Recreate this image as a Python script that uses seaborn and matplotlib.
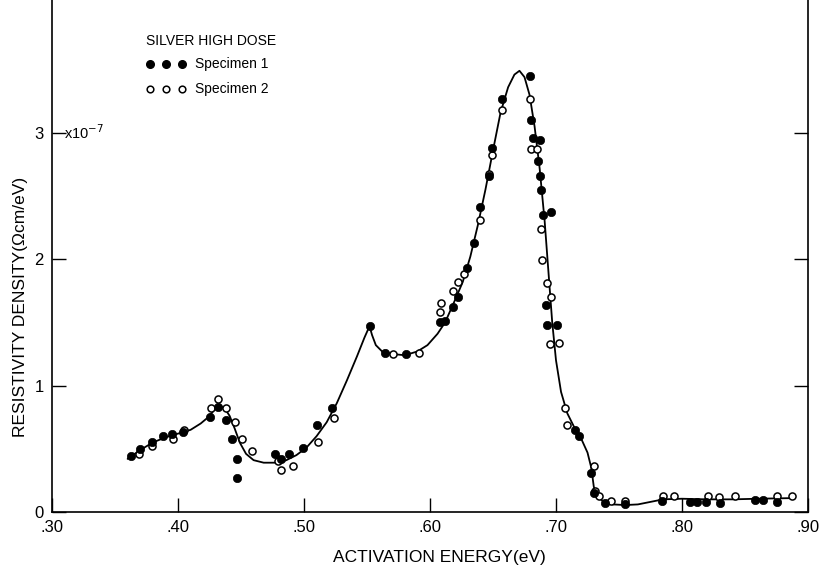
import matplotlib
matplotlib.use("Agg")
import matplotlib.pyplot as plt
import seaborn as sns
import pandas as pd

# ---- data ----
curve_x = [0.360, 0.370, 0.380, 0.390, 0.400, 0.410, 0.418, 0.424, 0.429, 0.433,
           0.437, 0.441, 0.445, 0.449, 0.454, 0.460, 0.468, 0.478, 0.486, 0.494,
           0.502, 0.510, 0.518, 0.526, 0.534, 0.542, 0.548, 0.552, 0.554, 0.557,
           0.562, 0.570, 0.580, 0.590, 0.598, 0.606, 0.612, 0.620, 0.626, 0.632,
           0.638, 0.644, 0.650, 0.656, 0.662, 0.667, 0.671, 0.675, 0.679, 0.683,
           0.687, 0.691, 0.694, 0.697, 0.700, 0.704, 0.709, 0.715, 0.720, 0.725,
           0.728, 0.730, 0.733, 0.738, 0.745, 0.755, 0.765, 0.775, 0.785, 0.800,
           0.820, 0.840, 0.860, 0.888]
curve_y = [0.42, 0.49, 0.55, 0.59, 0.62, 0.65, 0.70, 0.75, 0.81, 0.84,
           0.82, 0.76, 0.66, 0.55, 0.46, 0.41, 0.39, 0.39, 0.41, 0.45,
           0.51, 0.60, 0.71, 0.86, 1.04, 1.23, 1.38, 1.47, 1.40, 1.32,
           1.27, 1.25, 1.24, 1.27, 1.32, 1.41, 1.50, 1.68, 1.82, 2.02,
           2.27, 2.55, 2.86, 3.16, 3.36, 3.46, 3.49, 3.44, 3.30, 3.05,
           2.72, 2.30, 1.90, 1.50, 1.20, 0.95, 0.78, 0.66, 0.58, 0.47,
           0.35, 0.20, 0.12, 0.08, 0.06, 0.055, 0.06, 0.08, 0.10, 0.105,
           0.10, 0.10, 0.105, 0.11]

spec1_x = [0.363, 0.370, 0.379, 0.388, 0.395, 0.404, 0.425, 0.432, 0.438, 0.443,
           0.447, 0.447, 0.477, 0.482, 0.488, 0.499, 0.510, 0.522, 0.552, 0.564,
           0.581, 0.608, 0.612, 0.618, 0.622, 0.629, 0.635, 0.640, 0.647, 0.649,
           0.657, 0.679, 0.680, 0.682, 0.686, 0.687, 0.687, 0.688, 0.690, 0.696,
           0.692, 0.693, 0.701, 0.715, 0.718, 0.728, 0.730, 0.739, 0.755, 0.784,
           0.806, 0.812, 0.819, 0.830, 0.858, 0.864, 0.875]
spec1_y = [0.44, 0.50, 0.55, 0.60, 0.62, 0.635, 0.75, 0.83, 0.73, 0.575,
           0.42, 0.27, 0.46, 0.42, 0.46, 0.51, 0.69, 0.82, 1.47, 1.26,
           1.25, 1.50, 1.51, 1.62, 1.70, 1.93, 2.13, 2.41, 2.66, 2.88,
           3.27, 3.45, 3.10, 2.96, 2.78, 2.94, 2.66, 2.55, 2.35, 2.37,
           1.64, 1.48, 1.48, 0.65, 0.60, 0.31, 0.15, 0.07, 0.06, 0.085,
           0.08, 0.08, 0.08, 0.075, 0.095, 0.095, 0.08]

spec2_x = [0.369, 0.379, 0.396, 0.405, 0.426, 0.432, 0.438, 0.445, 0.451, 0.459,
           0.479, 0.482, 0.491, 0.511, 0.524, 0.571, 0.591, 0.608, 0.609, 0.618,
           0.622, 0.627, 0.640, 0.647, 0.649, 0.657, 0.679, 0.680, 0.685, 0.688,
           0.689, 0.693, 0.696, 0.695, 0.702, 0.707, 0.709, 0.730, 0.731, 0.734,
           0.744, 0.755, 0.785, 0.794, 0.821, 0.829, 0.842, 0.875, 0.887]
spec2_y = [0.46, 0.52, 0.58, 0.65, 0.82, 0.89, 0.82, 0.71, 0.58, 0.485,
           0.405, 0.33, 0.36, 0.55, 0.745, 1.25, 1.26, 1.58, 1.65, 1.75,
           1.82, 1.88, 2.31, 2.67, 2.82, 3.18, 3.27, 2.87, 2.87, 2.24,
           1.99, 1.81, 1.70, 1.33, 1.34, 0.82, 0.69, 0.36, 0.17, 0.13,
           0.09, 0.09, 0.125, 0.125, 0.13, 0.12, 0.125, 0.13, 0.125]

x_ticks = [0.30, 0.40, 0.50, 0.60, 0.70, 0.80, 0.90]
x_tick_labels = [".30", ".40", ".50", ".60", ".70", ".80", ".90"]
y_ticks = [0, 1, 2, 3]
y_tick_labels = ["0", "1", "2", "3"]

# ---- plotting ----
sns.set_theme(style="ticks")
plt.rcParams["font.family"] = ["Liberation Sans", "DejaVu Sans"]
plt.rcParams["text.color"] = "black"
plt.rcParams["axes.labelcolor"] = "black"

fig = plt.figure(figsize=(8.19, 5.69), dpi=100)
ax = fig.add_axes([52 / 819, 57 / 569, 756 / 819, 512 / 569])

curve = pd.DataFrame({"x": curve_x, "y": curve_y})
s1 = pd.DataFrame({"x": spec1_x, "y": spec1_y})
s2 = pd.DataFrame({"x": spec2_x, "y": spec2_y})

sns.lineplot(data=curve, x="x", y="y", sort=False, estimator=None,
             color="black", linewidth=1.3, ax=ax)
sns.scatterplot(data=s2, x="x", y="y", marker="o", s=26, facecolor="white",
                edgecolor="black", linewidth=1.1, ax=ax, zorder=3)
sns.scatterplot(data=s1, x="x", y="y", marker="o", s=36, color="black",
                edgecolor="black", linewidth=0.5, ax=ax, zorder=4)

ax.set_xlim(0.30, 0.90)
ax.set_ylim(0, 4.05)
ax.set_xticks(x_ticks)
ax.set_xticklabels(x_tick_labels)
ax.set_yticks(y_ticks)
ax.set_yticklabels(y_tick_labels)
ax.tick_params(axis="both", direction="in", length=10, width=1.0,
               labelsize=12, colors="black", pad=6)
ax.tick_params(axis="y", right=True, left=True)
ax.tick_params(axis="x", top=False)

for side in ["left", "bottom", "right"]:
    ax.spines[side].set_linewidth(1.2)
    ax.spines[side].set_color("black")
ax.spines["top"].set_visible(False)

ax.set_xlabel("ACTIVATION ENERGY(eV)", fontsize=12.5)
ax.set_ylabel("RESISTIVITY DENSITY(\u03a9cm/eV)", fontsize=12.5)
ax.xaxis.set_label_coords(0.513, -0.075)
ax.yaxis.set_label_coords(-0.032, 0.40)

ax.text(0.3095, 3.0, "x10$^{-7}$", fontsize=10.5, va="center", ha="left")

# legend block
tr = ax.transAxes
def ax_xy(px, py):
    return ((px - 52) / 756, (512 - py) / 512)

ax.text(*ax_xy(146, 41), "SILVER HIGH DOSE", transform=tr, fontsize=10,
        va="center", ha="left")
for px in [150, 166, 182]:
    ax.plot(*ax_xy(px, 64), marker="o", ms=5.5, color="black", transform=tr,
            clip_on=False)
    ax.plot(*ax_xy(px, 89), marker="o", ms=4.8, mfc="white", mec="black",
            mew=1.1, transform=tr, clip_on=False)
ax.text(*ax_xy(195, 64), "Specimen 1", transform=tr, fontsize=10,
        va="center", ha="left")
ax.text(*ax_xy(195, 89), "Specimen 2", transform=tr, fontsize=10,
        va="center", ha="left")

fig.savefig("out.png", dpi=100, facecolor="white")
